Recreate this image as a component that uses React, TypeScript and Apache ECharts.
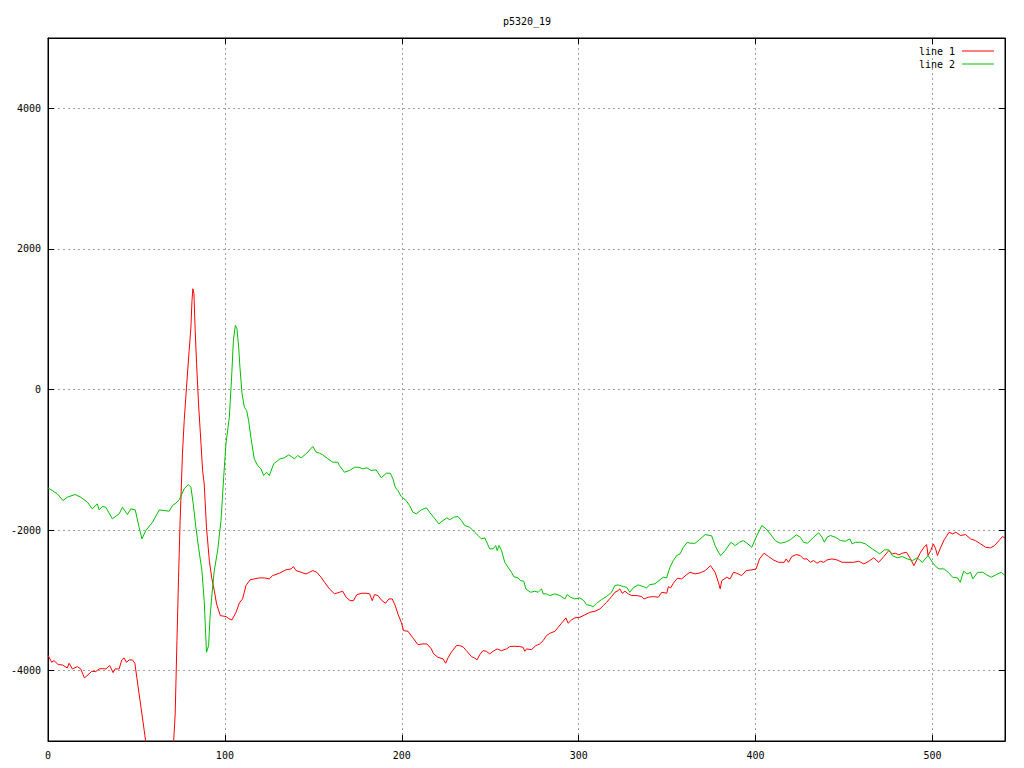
import React, { useEffect, useRef } from "react";
import * as echarts from "echarts";

const titleText = "p5320_19";
const seriesNames = ["line 1", "line 2"];

const redX = [0, 2.1, 3.4, 5.8, 8.1, 10.9, 11.9, 13.8, 16.6, 18.5, 20.6, 23.2, 24.7, 27, 28.9, 30.7, 32.7, 34.9, 36.8, 37.9, 40.2, 41.7, 43, 44.3, 45.9, 47.7, 49.1, 50.2, 51.5, 53.1, 54.4, 55.3, 57, 60, 63, 66, 69, 71, 71.9, 72.9, 73.8, 74.7, 75.1, 76, 77, 78.3, 79.8, 80.8, 81.4, 81.9, 82.5, 83.2, 84, 85.1, 86.5, 87.4, 88.3, 89.6, 91.2, 92.5, 94, 95.3, 97.4, 100.6, 102.5, 104, 106.3, 108.2, 110, 111.9, 114.2, 116.6, 119.5, 122.3, 125.1, 127, 130.8, 134.5, 137.4, 138.7, 140.2, 143.1, 145.9, 147.8, 149.7, 151.9, 154.4, 156.3, 159.1, 162, 164.8, 166.6, 168.5, 170.8, 172.7, 174.6, 177.6, 179.9, 181.8, 183.3, 184.6, 186.5, 188.4, 190.8, 192.7, 194.6, 196.3, 197.8, 199.7, 201, 203.5, 206, 209.1, 212, 214.2, 216.7, 218, 220.4, 223.3, 224.8, 226.1, 228, 230.9, 232.7, 234.6, 236.5, 239.4, 241.2, 242.5, 244.1, 245.9, 247.8, 249.7, 251.6, 253.9, 256.3, 259.2, 261, 263.9, 266.7, 268.6, 269.5, 270.5, 273.3, 275.8, 278, 279.9, 281.8, 283.7, 286.6, 288.4, 290.3, 292.8, 294, 296, 297.8, 300.7, 303.5, 306.3, 309.2, 312, 313.9, 315.8, 318.6, 320.5, 322.3, 323.3, 324.6, 326.2, 328, 330, 332.8, 335.6, 336.9, 339.3, 342.2, 345, 347, 349.8, 350.7, 352, 353.5, 355.8, 358.2, 361.1, 362.9, 365.8, 368.6, 371.5, 374.5, 377.1, 379, 380, 380.9, 383.7, 385.6, 387.5, 389.4, 392.2, 394.7, 397.9, 400.3, 402.2, 404.8, 407.3, 410.1, 412.9, 416.2, 417.3, 418.6, 420.5, 423, 425.3, 427.1, 429.1, 430.9, 432.8, 434.7, 436.6, 438.5, 440.4, 443.2, 446, 448.9, 451.7, 455.5, 458.3, 461.2, 464, 466.8, 469.6, 472.5, 475.3, 477.3, 479.1, 481, 482.9, 485.3, 487.6, 489.5, 491.4, 493.3, 495.2, 496.7, 497.5, 499, 500.5, 501.8, 502.8, 504.3, 506.6, 509.4, 511.4, 513.2, 515.9, 518.7, 521.5, 524.3, 527.2, 530, 532.8, 535.1, 537.6, 539.5, 541];
const redY = [-3780, -3880, -3856, -3913, -3918, -3960, -3894, -3975, -3942, -3975, -4103, -4046, -4008, -4013, -3975, -3970, -3975, -3927, -4027, -3975, -3975, -3847, -3818, -3880, -3847, -3847, -3894, -4094, -4330, -4615, -4852, -5019, -5400, -5800, -6000, -5900, -5500, -5019, -4615, -3572, -2671, -1864, -1580, -915, -441, 33, 555, 887, 1266, 1433, 1362, 840, 366, -204, -773, -1153, -1342, -1959, -2433, -2671, -2860, -3050, -3216, -3230, -3263, -3277, -3169, -3035, -2979, -2789, -2708, -2694, -2680, -2680, -2694, -2647, -2614, -2566, -2552, -2519, -2576, -2600, -2623, -2600, -2576, -2600, -2671, -2742, -2836, -2907, -2884, -2870, -2955, -3003, -3003, -2917, -2898, -2898, -2907, -3003, -2917, -2931, -2993, -3041, -2979, -2979, -3074, -3192, -3311, -3430, -3439, -3524, -3629, -3619, -3619, -3690, -3761, -3809, -3832, -3894, -3818, -3738, -3643, -3643, -3660, -3714, -3799, -3820, -3847, -3771, -3714, -3724, -3761, -3724, -3690, -3714, -3690, -3657, -3652, -3657, -3667, -3724, -3690, -3700, -3643, -3619, -3572, -3501, -3468, -3439, -3382, -3325, -3249, -3325, -3277, -3249, -3240, -3206, -3169, -3155, -3121, -3074, -3027, -2946, -2884, -2860, -2836, -2898, -2870, -2907, -2931, -2931, -2946, -2979, -2955, -2946, -2955, -2884, -2898, -2803, -2822, -2756, -2685, -2694, -2633, -2600, -2623, -2609, -2576, -2505, -2600, -2742, -2836, -2718, -2671, -2694, -2600, -2614, -2647, -2576, -2566, -2552, -2410, -2329, -2376, -2424, -2458, -2458, -2410, -2458, -2376, -2348, -2362, -2410, -2410, -2458, -2433, -2471, -2443, -2458, -2424, -2410, -2424, -2458, -2458, -2458, -2443, -2481, -2443, -2395, -2458, -2376, -2291, -2338, -2329, -2353, -2329, -2315, -2410, -2505, -2410, -2315, -2244, -2206, -2362, -2291, -2196, -2267, -2362, -2267, -2139, -2030, -2054, -2030, -2077, -2063, -2125, -2149, -2196, -2244, -2253, -2220, -2149, -2092, -2110];

const greenX = [0, 2.4, 5.3, 8.5, 10.9, 15.3, 18.5, 22.3, 25, 27.9, 28.9, 30.8, 32.7, 36.4, 40.2, 42.1, 44.9, 46.8, 49.3, 51.5, 53.1, 55.3, 59.1, 62.9, 65.7, 68.5, 70.4, 72.3, 74.2, 77, 79.3, 80.8, 82.1, 83.6, 85.1, 87, 88.3, 89.6, 90.8, 91.6, 92.7, 94, 95.9, 97.8, 98.5, 99.3, 100.6, 102.5, 103.8, 104.8, 105.9, 106.8, 107.8, 108.5, 109.7, 111, 112.3, 113.4, 114.8, 116.6, 118.5, 120.4, 121.9, 123.6, 125.1, 127.6, 129.9, 131.2, 133.6, 136.1, 139.3, 141.2, 143.1, 146.3, 149.7, 151.6, 153.5, 155.3, 158.2, 161, 163.8, 164.7, 167.6, 170.4, 173.3, 175.7, 178, 180.3, 182.7, 185.5, 188.4, 191.2, 193.5, 195, 196.3, 197.8, 199.7, 202.5, 204.4, 206.3, 208.2, 211, 213.9, 215.7, 218, 221, 223.3, 225.5, 227.1, 229.3, 231.8, 233.7, 235.6, 238.4, 241.2, 243.1, 245, 246.9, 249.7, 251.6, 253.1, 253.9, 255, 256.4, 258.2, 260.1, 262, 263.3, 265.7, 267.1, 269, 270.1, 272.8, 275.2, 277.1, 279, 279.9, 281.8, 283.7, 286.6, 289.4, 292.2, 293.5, 295.4, 297.8, 300.6, 302.9, 304.4, 306.7, 308.2, 310.1, 312.9, 315.7, 318.6, 320.4, 322.3, 325.2, 327.1, 328.9, 330.8, 333.6, 336.5, 338.4, 340.3, 343.1, 345.4, 347.8, 349.7, 351.6, 353.5, 355.4, 357.3, 359.2, 361.4, 363, 365.8, 368.6, 371.5, 375.2, 377.1, 379, 380.3, 382.8, 386, 388.5, 390.9, 393.1, 395.1, 397.9, 400.3, 402.6, 403.5, 406, 408.3, 411.1, 413.9, 416.7, 419.6, 423, 425.3, 427.1, 429.4, 432.8, 435.7, 437.6, 438.9, 440.4, 442.3, 445.1, 448, 450.8, 453.3, 454.6, 456.5, 459.3, 462.1, 465.9, 468.8, 470.2, 472.9, 475.3, 477.3, 480.1, 482.9, 485.8, 488.6, 491.4, 494.3, 497.5, 500, 501.3, 503.7, 506.6, 508.9, 511.4, 514.2, 515.7, 517.6, 519.6, 521.5, 522.8, 525.6, 528.5, 530.4, 533.2, 536.1, 538.9, 541];
const greenY = [-1399, -1437, -1485, -1580, -1532, -1494, -1532, -1603, -1698, -1627, -1712, -1665, -1675, -1840, -1769, -1675, -1779, -1698, -1712, -1959, -2125, -2006, -1888, -1712, -1722, -1731, -1650, -1617, -1570, -1413, -1352, -1390, -1627, -1959, -2244, -2576, -3003, -3738, -3643, -3240, -2907, -2576, -2291, -1864, -1580, -1250, -773, -394, 175, 697, 911, 864, 602, 317, -61, -252, -299, -441, -700, -986, -1081, -1128, -1224, -1177, -1224, -1057, -1010, -986, -972, -929, -986, -939, -972, -906, -811, -892, -906, -929, -986, -1034, -1034, -1081, -1177, -1153, -1106, -1106, -1128, -1114, -1153, -1143, -1256, -1191, -1191, -1271, -1390, -1437, -1523, -1580, -1650, -1745, -1769, -1712, -1684, -1745, -1817, -1912, -1864, -1826, -1854, -1817, -1807, -1864, -1935, -1959, -2030, -2077, -2125, -2110, -2267, -2267, -2220, -2291, -2220, -2291, -2458, -2529, -2600, -2661, -2680, -2718, -2728, -2836, -2884, -2870, -2884, -2836, -2907, -2907, -2931, -2907, -2931, -2979, -2917, -2955, -2979, -2964, -3003, -3060, -3074, -3088, -3041, -2988, -2946, -2884, -2789, -2779, -2803, -2813, -2884, -2822, -2779, -2803, -2822, -2775, -2765, -2718, -2671, -2680, -2529, -2433, -2362, -2338, -2244, -2173, -2187, -2187, -2130, -2063, -2082, -2220, -2315, -2362, -2291, -2173, -2220, -2173, -2149, -2187, -2244, -2101, -1983, -1935, -1983, -2054, -2149, -2187, -2173, -2139, -2068, -2101, -2173, -2187, -2101, -2039, -2101, -2173, -2101, -2077, -2101, -2149, -2159, -2125, -2196, -2173, -2173, -2196, -2267, -2315, -2338, -2281, -2281, -2362, -2395, -2376, -2410, -2433, -2395, -2458, -2362, -2458, -2505, -2552, -2552, -2600, -2671, -2680, -2742, -2585, -2623, -2600, -2694, -2600, -2600, -2633, -2671, -2633, -2600, -2647];

const xMin = 0;
const xMax = 541;
const xStep = 100;
const yMin = -5000;
const yMax = 5000;

const FONT = "DejaVu Sans Mono";

export default function App() {
  const ref = useRef<HTMLDivElement>(null);

  useEffect(() => {
    if (!ref.current) return;
    const chart = echarts.init(ref.current, null, { renderer: "svg" });
    const redData = redX.map((x, i) => [x, redY[i]]);
    const greenData = greenX.map((x, i) => [x, greenY[i]]);
    const gridLine = { show: true, lineStyle: { color: "#a0a0a0", type: [2, 3], width: 1 } };
    const axisLine = { show: true, onZero: false, lineStyle: { color: "#000", width: 1 } };
    const tick = { show: true, inside: true, length: 6, lineStyle: { color: "#000" } };
    const label = { color: "#000", fontFamily: FONT, fontSize: 10 };
    const legendIcon = "path://M0,0L32,0L32,1L0,1Z";
    chart.setOption({
      animation: false,
      backgroundColor: "#fff",
      title: {
        text: titleText,
        left: 527,
        textAlign: "center",
        top: 16,
        padding: 0,
        textStyle: { fontFamily: FONT, fontSize: 10, fontWeight: "normal", color: "#000" },
      },
      legend: {
        orient: "vertical",
        right: 30,
        top: 46,
        padding: 0,
        align: "right",
        itemWidth: 32,
        itemHeight: 13,
        itemGap: 3,
        textStyle: { fontFamily: FONT, fontSize: 10, color: "#000", padding: [0, 2, 0, 0] },
        data: seriesNames.map((n) => ({ name: n, icon: legendIcon })),
      },
      grid: {
        left: 48,
        top: 38,
        right: 19,
        bottom: 27,
        show: true,
        borderColor: "#000",
        borderWidth: 1,
        containLabel: false,
      },
      xAxis: [
        {
          type: "value",
          min: xMin,
          max: xMax,
          interval: xStep,
          position: "bottom",
          axisLine,
          axisTick: tick,
          axisLabel: {
            ...label,
            margin: 9,
            showMaxLabel: false,
            formatter: (v: number) => (v % xStep === 0 ? String(v) : ""),
          },
          splitLine: gridLine,
        },
        {
          type: "value",
          min: xMin,
          max: xMax,
          interval: xStep,
          position: "top",
          axisLine,
          axisTick: tick,
          axisLabel: { show: false },
          splitLine: { show: false },
        },
      ],
      yAxis: [
        {
          type: "value",
          min: yMin,
          max: yMax,
          splitNumber: 5,
          position: "left",
          axisLine,
          axisTick: tick,
          axisLabel: {
            ...label,
            margin: 7,
            showMinLabel: false,
            showMaxLabel: false,
            formatter: (v: number) => (v === yMin || v === yMax ? "" : String(v)),
          },
          splitLine: gridLine,
        },
        {
          type: "value",
          min: yMin,
          max: yMax,
          splitNumber: 5,
          position: "right",
          axisLine,
          axisTick: tick,
          axisLabel: { show: false },
          splitLine: { show: false },
        },
      ],
      series: [
        {
          name: seriesNames[0],
          type: "line",
          xAxisIndex: 0,
          yAxisIndex: 0,
          data: redData,
          symbol: "none",
          showSymbol: false,
          clip: true,
          color: "#ff0000",
          lineStyle: { color: "#ff0000", width: 1 },
        },
        {
          name: seriesNames[1],
          type: "line",
          xAxisIndex: 0,
          yAxisIndex: 0,
          data: greenData,
          symbol: "none",
          showSymbol: false,
          clip: true,
          color: "#00c000",
          lineStyle: { color: "#00c000", width: 1 },
        },
      ],
    });
    return () => chart.dispose();
  }, []);

  return (
    <div
      ref={ref}
      style={{ position: "absolute", left: 0, top: 0, width: 1024, height: 768, background: "#fff" }}
    />
  );
}
